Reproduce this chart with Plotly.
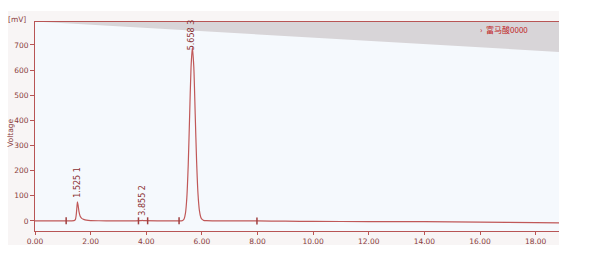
import plotly.graph_objects as go

# ---- data ----
time_min = [0.0, 0.5, 1.0, 1.12, 1.3, 1.40, 1.45, 1.48, 1.50, 1.525, 1.55, 1.58, 1.62, 1.68, 1.75,
            1.85, 2.0, 2.3, 2.8, 3.5, 3.80, 3.855, 3.91, 4.5, 5.0, 5.2, 5.26, 5.31, 5.36, 5.41,
            5.46, 5.51, 5.56, 5.61, 5.658, 5.71, 5.76, 5.81, 5.86, 5.91, 5.96, 6.01, 6.06, 6.16, 6.4,
            7.0, 8.0, 9.0, 10.0, 12.0, 14.0, 16.0, 18.0, 18.84]
voltage_mv = [0, 0, 0.2, 0.3, 0.5, 1, 5, 22, 45, 76, 62, 38, 20, 10, 6,
              3, 1.5, 0.8, 0.4, 0.3, 1.2, 2.0, 1.0, 0.5, 0.4, 0.4, 0.6, 1.8, 8, 31,
              94, 225, 420, 610, 690, 612, 425, 238, 108, 42, 15, 6, 2.5, 1, 0.6,
              0.4, 0, -1, -2, -2.5, -3, -5, -7, -8]

marker_times = [1.12, 3.72, 4.05, 5.18, 7.98]
marker_values = [0.3, 0.3, 0.5, 0.4, 0]

peak_times = [1.525, 3.855, 5.658]
label_y = [76, 4, 662]
peak_labels = ["1.525 1", "3.855 2", "5.658 3"]

wedge_x = [0.3, 18.84, 18.84]
wedge_y = [791, 672, 791]

x_tickvals = [0, 2, 4, 6, 8, 10, 12, 14, 16, 18]
x_ticktext = ["0.00", "2.00", "4.00", "6.00", "8.00", "10.00", "12.00", "14.00", "16.00", "18.00"]
y_tickvals = [0, 100, 200, 300, 400, 500, 600, 700]

legend_name = "富马酸0000"

AXIS = "#b85555"
TEXT = "#8a3c3c"
TRACE = "#c05858"
FONT = "DejaVu Sans"

fig = go.Figure()

fig.add_trace(go.Scatter(x=wedge_x, y=wedge_y, fill="toself", mode="lines",
                         line=dict(width=0, color="#d8d5d8"), fillcolor="#d8d5d8",
                         showlegend=False, hoverinfo="skip"))

fig.add_trace(go.Scatter(x=time_min, y=voltage_mv, mode="lines",
                         line=dict(color=TRACE, width=1.2, shape="spline", smoothing=0.6),
                         showlegend=False))

fig.add_trace(go.Scatter(x=marker_times, y=marker_values, mode="markers",
                         marker=dict(symbol="line-ns", size=5, line=dict(width=1.5, color="#a04040")),
                         showlegend=False))

for t, h, lab in zip(peak_times, label_y, peak_labels):
    fig.add_annotation(x=t, y=h, text=lab, textangle=-90, showarrow=False,
                       xanchor="center", yanchor="bottom", yshift=2,
                       font=dict(family=FONT, size=8, color="#8a3030"))

# legend text
fig.add_annotation(xref="paper", yref="paper", x=0.845, y=0.965, text="›  " + legend_name,
                   showarrow=False, xanchor="left", yanchor="middle",
                   font=dict(family="Noto Sans CJK SC", size=8, color="#c02828"))

# axis titles
fig.add_annotation(xref="paper", yref="paper", x=-0.013, y=1.014, text="[mV]", showarrow=False,
                   xanchor="right", yanchor="middle", font=dict(family=FONT, size=7.5, color=TEXT))
fig.add_annotation(xref="paper", yref="paper", x=-0.033, y=0.47, text="Voltage", showarrow=False,
                   textangle=-90, xanchor="right", yanchor="middle",
                   font=dict(family=FONT, size=7.5, color=TEXT))

# frame + plot background
fig.add_shape(type="rect", xref="paper", yref="paper", x0=-0.0515, x1=1.0, y0=-0.067, y1=1.053,
              fillcolor="#f8f5f5", line=dict(width=0), layer="below")
fig.add_shape(type="rect", xref="paper", yref="paper", x0=0, x1=1.0, y0=0, y1=1.0,
              fillcolor="#f5f9fd", line=dict(width=0), layer="below")

fig.update_layout(
    width=598, height=263,
    margin=dict(l=35, r=39, t=22, b=32),
    paper_bgcolor="white", plot_bgcolor="rgba(0,0,0,0)",
    font=dict(family=FONT, size=7.5, color=TEXT),
    showlegend=False,
    xaxis=dict(range=[0, 18.84], tickvals=x_tickvals, ticktext=x_ticktext,
               showgrid=False, zeroline=False, showline=True, linecolor=AXIS, linewidth=1,
               mirror=True, ticks="outside", ticklen=3, tickcolor=AXIS,
               tickfont=dict(family=FONT, size=7.5, color=TEXT)),
    yaxis=dict(range=[-40, 791], tickvals=y_tickvals,
               showgrid=False, zeroline=False, showline=True, linecolor=AXIS, linewidth=1,
               ticks="outside", ticklen=4, tickcolor=AXIS,
               tickfont=dict(family=FONT, size=7.5, color=TEXT)),
)

fig.write_html("out.html")
